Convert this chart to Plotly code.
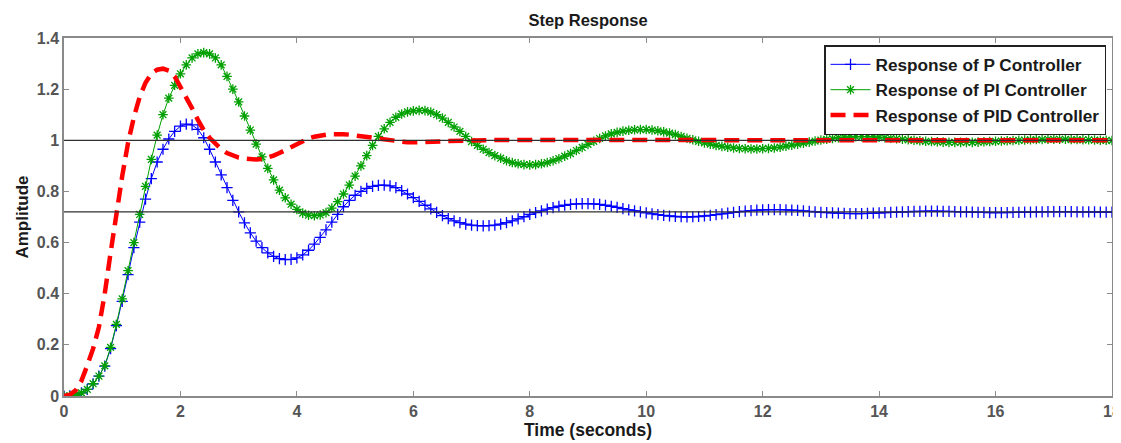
import plotly.graph_objects as go

# time base (seconds), 0.1 s spacing
t = [round(i * 0.1, 1) for i in range(181)]

p_resp = [
    0.000, 0.001, 0.004, 0.012, 0.026, 0.048, 0.078, 0.117, 0.185, 0.275,
    0.370, 0.475, 0.580, 0.680, 0.770, 0.850, 0.915, 0.965, 1.005, 1.035,
    1.055, 1.063, 1.060, 1.043, 1.010, 0.965, 0.915, 0.865, 0.815, 0.765,
    0.720, 0.677, 0.638, 0.606, 0.580, 0.560, 0.546, 0.537, 0.533, 0.534,
    0.540, 0.552, 0.570, 0.594, 0.620, 0.650, 0.680, 0.710, 0.740, 0.765,
    0.785, 0.800, 0.812, 0.820, 0.824, 0.825, 0.822, 0.815, 0.803, 0.790,
    0.776, 0.761, 0.746, 0.732, 0.718, 0.705, 0.694, 0.685, 0.678, 0.672,
    0.668, 0.666, 0.665, 0.666, 0.668, 0.672, 0.678, 0.685, 0.693, 0.701,
    0.710, 0.717, 0.724, 0.731, 0.737, 0.742, 0.746, 0.749, 0.751, 0.752,
    0.752, 0.751, 0.749, 0.746, 0.742, 0.738, 0.733, 0.728, 0.724, 0.720,
    0.716, 0.712, 0.709, 0.706, 0.704, 0.702, 0.701, 0.700, 0.701, 0.702,
    0.704, 0.706, 0.709, 0.712, 0.715, 0.718, 0.721, 0.723, 0.725, 0.727,
    0.728, 0.729, 0.729, 0.729, 0.728, 0.727, 0.726, 0.724, 0.722, 0.720,
    0.718, 0.717, 0.716, 0.715, 0.714, 0.713, 0.713, 0.713, 0.714, 0.715,
    0.716, 0.717, 0.718, 0.719, 0.720, 0.721, 0.722, 0.722, 0.723, 0.723,
    0.723, 0.722, 0.722, 0.721, 0.720, 0.720, 0.719, 0.718, 0.718, 0.717,
    0.717, 0.717, 0.717, 0.718, 0.718, 0.719, 0.719, 0.720, 0.720, 0.721,
    0.721, 0.721, 0.721, 0.721, 0.720, 0.720, 0.720, 0.720, 0.719, 0.719,
    0.719,
]

pi_resp = [
    0.000, 0.001, 0.004, 0.012, 0.026, 0.048, 0.078, 0.118, 0.190, 0.280,
    0.380, 0.490, 0.600, 0.710, 0.820, 0.925, 1.020, 1.100, 1.165, 1.215,
    1.260, 1.295, 1.322, 1.338, 1.343, 1.338, 1.322, 1.295, 1.250, 1.200,
    1.150, 1.095, 1.040, 0.985, 0.935, 0.890, 0.845, 0.805, 0.775, 0.750,
    0.730, 0.715, 0.707, 0.705, 0.708, 0.717, 0.735, 0.760, 0.790, 0.825,
    0.860, 0.900, 0.940, 0.980, 1.015, 1.045, 1.070, 1.090, 1.103, 1.111,
    1.115, 1.117, 1.116, 1.110, 1.100, 1.087, 1.070, 1.052, 1.035, 1.015,
    0.995, 0.980, 0.965, 0.952, 0.940, 0.930, 0.920, 0.913, 0.908, 0.905,
    0.904, 0.905, 0.908, 0.913, 0.920, 0.928, 0.938, 0.948, 0.960, 0.972,
    0.984, 0.996, 1.007, 1.017, 1.025, 1.031, 1.036, 1.039, 1.041, 1.042,
    1.042, 1.040, 1.037, 1.033, 1.028, 1.022, 1.015, 1.008, 1.002, 0.996,
    0.990, 0.985, 0.980, 0.976, 0.973, 0.970, 0.968, 0.967, 0.966, 0.966,
    0.967, 0.968, 0.970, 0.973, 0.977, 0.981, 0.985, 0.989, 0.993, 0.997,
    1.001, 1.004, 1.007, 1.010, 1.012, 1.013, 1.014, 1.014, 1.014, 1.013,
    1.012, 1.010, 1.008, 1.006, 1.004, 1.002, 1.000, 0.998, 0.996, 0.995,
    0.994, 0.993, 0.992, 0.992, 0.992, 0.992, 0.992, 0.993, 0.994, 0.995,
    0.996, 0.997, 0.998, 0.999, 1.000, 1.001, 1.002, 1.003, 1.003, 1.004,
    1.004, 1.004, 1.004, 1.003, 1.003, 1.002, 1.002, 1.001, 1.000, 1.000,
    0.999,
]

pid_resp = [
    0.000, 0.005, 0.022, 0.060, 0.120, 0.185, 0.270, 0.400, 0.560, 0.720,
    0.860, 0.990, 1.090, 1.170, 1.225, 1.260, 1.276, 1.280, 1.272, 1.250,
    1.210, 1.170, 1.125, 1.080, 1.040, 1.010, 0.985, 0.965, 0.950, 0.940,
    0.932, 0.928, 0.926, 0.925, 0.927, 0.932, 0.940, 0.950, 0.962, 0.975,
    0.987, 0.998, 1.007, 1.014, 1.019, 1.022, 1.024, 1.025, 1.024, 1.022,
    1.019, 1.016, 1.012, 1.008, 1.004, 1.000, 0.997, 0.995, 0.993, 0.992,
    0.992, 0.992, 0.993, 0.994, 0.995, 0.996, 0.997, 0.998, 0.999, 1.000,
    1.000, 1.000, 1.001, 1.001, 1.001, 1.001, 1.001, 1.001, 1.000, 1.000,
    1.000, 1.000, 1.000, 1.000, 1.000, 1.000, 1.000, 1.000, 1.000, 1.000,
    1.000, 1.000, 1.000, 1.000, 1.000, 1.000, 1.000, 1.000, 1.000, 1.000,
    1.000, 1.000, 1.000, 1.000, 1.000, 1.000, 1.000, 1.000, 1.000, 1.000,
    1.000, 1.000, 1.000, 1.000, 1.000, 1.000, 1.000, 1.000, 1.000, 1.000,
    1.000, 1.000, 1.000, 1.000, 1.000, 1.000, 1.000, 1.000, 1.000, 1.000,
    1.000, 1.000, 1.000, 1.000, 1.000, 1.000, 1.000, 1.000, 1.000, 1.000,
    1.000, 1.000, 1.000, 1.000, 1.000, 1.000, 1.000, 1.000, 1.000, 1.000,
    1.000, 1.000, 1.000, 1.000, 1.000, 1.000, 1.000, 1.000, 1.000, 1.000,
    1.000, 1.000, 1.000, 1.000, 1.000, 1.000, 1.000, 1.000, 1.000, 1.000,
    1.000, 1.000, 1.000, 1.000, 1.000, 1.000, 1.000, 1.000, 1.000, 1.000,
    1.000,
]

ref_levels = [1.0, 0.72]
x_ticks = [0, 2, 4, 6, 8, 10, 12, 14, 16, 18]
y_ticks = [0, 0.2, 0.4, 0.6, 0.8, 1, 1.2, 1.4]
y_tick_text = ["0", "0.2", "0.4", "0.6", "0.8", "1", "1.2", "1.4"]

FONT = "Liberation Sans, Arial, sans-serif"

fig = go.Figure()

fig.add_trace(go.Scatter(
    x=t, y=p_resp, mode="lines+markers", name="<b>Response of P Controller</b>",
    line=dict(color="#0000ff", width=1),
    marker=dict(symbol="cross-thin", size=8, color="#0000ff",
                line=dict(color="#0000ff", width=1.3)),
))
fig.add_trace(go.Scatter(
    x=t, y=pi_resp, mode="lines+markers", name="<b>Response of PI Controller</b>",
    line=dict(color="#00a000", width=1),
    marker=dict(symbol="asterisk", size=8, color="#00a000",
                line=dict(color="#00a000", width=1.3)),
))
fig.add_trace(go.Scatter(
    x=t, y=pid_resp, mode="lines", name="<b>Response of PID Controller</b>",
    line=dict(color="#ff0000", width=4.5, dash="15px,8px"),
))

for lv in ref_levels:
    fig.add_shape(type="line", xref="paper", x0=0, x1=1, yref="y", y0=lv, y1=lv,
                  line=dict(color="#303030", width=1.2), layer="above")

axis_common = dict(
    showline=True, linecolor="#8a8a8a", linewidth=1.5, mirror="ticks",
    ticks="inside", ticklen=5, tickcolor="#8a8a8a", showgrid=False, zeroline=False,
    automargin=False,
    tickfont=dict(family=FONT, size=16, color="#555555", weight="bold"),
)

fig.update_layout(
    width=1113, height=435,
    margin=dict(l=56, r=9, t=30, b=47),
    paper_bgcolor="white", plot_bgcolor="white",
    title=dict(text="<b>Step Response</b>", x=0.5, xref="paper", xanchor="center",
               y=1 - 12 / 435, yanchor="middle",
               font=dict(family=FONT, size=16.5, color="#1a1a1a")),
    xaxis=dict(range=[0, 18], tickvals=x_ticks, ticktext=[str(v) for v in x_ticks],
               title=dict(text="<b>Time (seconds)</b>", standoff=2,
                          font=dict(family=FONT, size=17.5, color="#1a1a1a")),
               **axis_common),
    yaxis=dict(range=[0, 1.4], tickvals=y_ticks, ticktext=y_tick_text,
               title=dict(text="<b>Amplitude</b>", standoff=4,
                          font=dict(family=FONT, size=17, color="#1a1a1a")),
               **axis_common),
    legend=dict(x=0.9943, xanchor="right", y=0.980, yanchor="top",
                bgcolor="white", bordercolor="#202020", borderwidth=1.5,
                font=dict(family=FONT, size=17.2, color="#1a1a1a"),
                tracegroupgap=0, itemwidth=40),
    showlegend=True,
)

fig.write_html("out.html")
